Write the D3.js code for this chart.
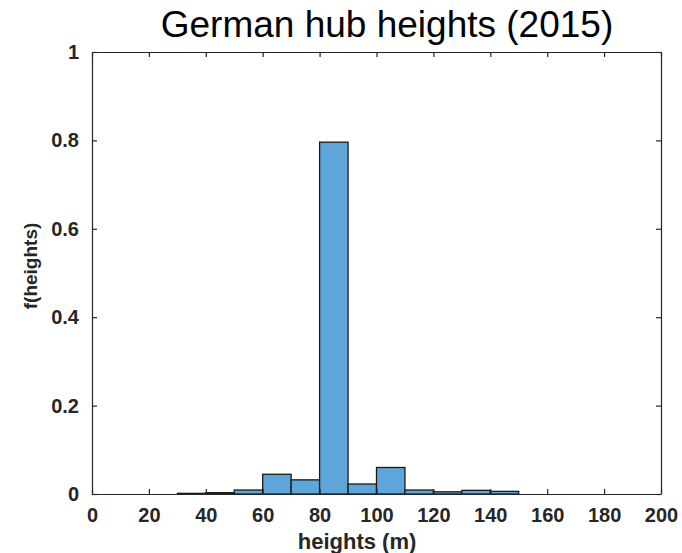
<!DOCTYPE html>
<html>
<head>
<meta charset="utf-8">
<script src="https://cdn.jsdelivr.net/npm/d3@7"></script>
<style>
  body { margin: 0; background: #fff; }
  svg { display: block; }
</style>
</head>
<body>
<svg id="chart" width="682" height="553"></svg>
<script>
// Histogram bins (left edges, width 10 m) and relative frequencies
const binStarts = [0, 10, 20, 30, 40, 50, 60, 70, 80, 90, 100, 110, 120, 130, 140, 150, 160, 170, 180, 190];
const binWidth = 10;
const freqs = [0, 0, 0, 0.0015, 0.003, 0.009, 0.0446, 0.032, 0.796, 0.0226, 0.060, 0.009, 0.005, 0.0083, 0.006, 0, 0, 0, 0, 0];
const xTicks = [0, 20, 40, 60, 80, 100, 120, 140, 160, 180, 200];
const yTicks = [0, 0.2, 0.4, 0.6, 0.8, 1];

const svg = d3.select("#chart");
const margin = { left: 92, right: 21, top: 52, bottom: 59 };
const W = 682, H = 553;
const x = d3.scaleLinear().domain([0, 200]).range([margin.left, W - margin.right]);
const y = d3.scaleLinear().domain([0, 1]).range([H - margin.bottom, margin.top]);

const axisColor = "#262626";
const font = "'Liberation Sans', Arial, Helvetica, sans-serif";

// bars
svg.append("g")
  .selectAll("rect")
  .data(binStarts.map((s, i) => ({ s, v: freqs[i] })).filter(d => d.v > 0))
  .join("rect")
  .attr("x", d => x(d.s))
  .attr("width", d => x(d.s + binWidth) - x(d.s))
  .attr("y", d => y(d.v))
  .attr("height", d => y(0) - y(d.v))
  .attr("fill", "#5ea5da")
  .attr("stroke", "#1a1a1a")
  .attr("stroke-width", 1.3);

// axes with inward ticks, mirrored on top and right
const tickLen = 5;
const axBottom = svg.append("g").attr("transform", `translate(0,${y(0)})`)
  .call(d3.axisBottom(x).tickValues(xTicks).tickSizeInner(-tickLen).tickSizeOuter(0).tickPadding(14).tickFormat(d3.format("d")));
const axTop = svg.append("g").attr("transform", `translate(0,${y(1)})`)
  .call(d3.axisTop(x).tickValues(xTicks).tickSizeInner(-tickLen).tickSizeOuter(0).tickFormat(""));
const axLeft = svg.append("g").attr("transform", `translate(${x(0)},0)`)
  .call(d3.axisLeft(y).tickValues(yTicks).tickSizeInner(-tickLen).tickSizeOuter(0).tickPadding(13).tickFormat(d => d === 0 || d === 1 ? d3.format("d")(d) : d3.format(".1f")(d)));
const axRight = svg.append("g").attr("transform", `translate(${x(200)},0)`)
  .call(d3.axisRight(y).tickValues(yTicks).tickSizeInner(-tickLen).tickSizeOuter(0).tickFormat(""));

[axBottom, axTop, axLeft, axRight].forEach(g => {
  g.select(".domain").attr("stroke", axisColor).attr("stroke-width", 1.2);
  g.selectAll(".tick line").attr("stroke", axisColor).attr("stroke-width", 1.2);
  g.selectAll(".tick text")
    .attr("fill", axisColor)
    .style("font-family", font)
    .style("font-size", "20px")
    .style("font-weight", "bold");
});

// title and axis labels
svg.append("text")
  .attr("x", 387).attr("y", 37)
  .attr("text-anchor", "middle")
  .style("font-family", font).style("font-size", "37px")
  .attr("fill", "#000")
  .text("German hub heights (2015)");

svg.append("text")
  .attr("x", 357).attr("y", 549)
  .attr("text-anchor", "middle")
  .style("font-family", font).style("font-size", "22px").style("font-weight", "bold")
  .attr("fill", axisColor)
  .text("heights (m)");

svg.append("text")
  .attr("transform", "translate(37,266) rotate(-90)")
  .attr("text-anchor", "middle")
  .style("font-family", font).style("font-size", "19px").style("font-weight", "bold")
  .attr("fill", axisColor)
  .text("f(heights)");
</script>
</body>
</html>
